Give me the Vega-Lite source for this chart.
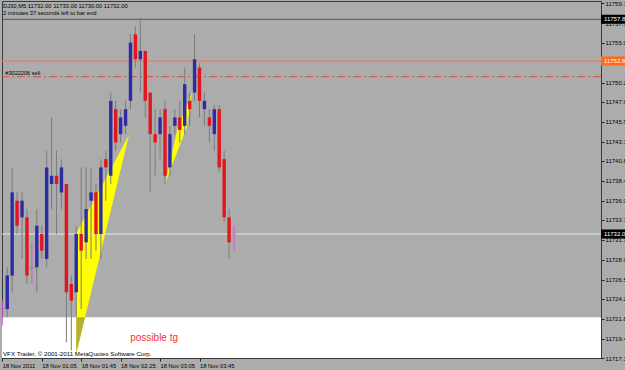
{
  "$schema": "https://vega.github.io/schema/vega-lite/v6.json",
  "width": 599,
  "height": 357,
  "autosize": {"type": "none"},
  "padding": {"left": 2, "top": 1, "right": 24, "bottom": 12},
  "background": "#ACACAC",
  "config": {
    "view": {"fill": "#ACACAC", "stroke": "#3A3A3A", "strokeWidth": 1},
    "font": "Liberation Sans",
    "scale": {"continuousPadding": 0},
    "axis": {"labelFont": "Liberation Sans", "labelFontSize": 6, "labelColor": "#000000", "tickColor": "#202020", "domainColor": "#3A3A3A", "grid": false, "labelOverlap": false, "labelFlush": false, "labelBound": false}
  },
  "datasets": {
    "bars": [
      {"t": "2011-11-18T00:25:00Z", "o": 11723, "h": 11724, "l": 11721, "c": 11723},
      {"t": "2011-11-18T00:30:00Z", "o": 11723, "h": 11728, "l": 11722, "c": 11727},
      {"t": "2011-11-18T00:35:00Z", "o": 11727, "h": 11740, "l": 11725, "c": 11737},
      {"t": "2011-11-18T00:40:00Z", "o": 11736, "h": 11737, "l": 11732, "c": 11733},
      {"t": "2011-11-18T00:45:00Z", "o": 11734, "h": 11737, "l": 11729, "c": 11736},
      {"t": "2011-11-18T00:50:00Z", "o": 11734, "h": 11735, "l": 11726, "c": 11727},
      {"t": "2011-11-18T00:55:00Z", "o": 11728, "h": 11731, "l": 11726, "c": 11728},
      {"t": "2011-11-18T01:00:00Z", "o": 11728, "h": 11735, "l": 11725, "c": 11733},
      {"t": "2011-11-18T01:05:00Z", "o": 11732, "h": 11733, "l": 11729, "c": 11730},
      {"t": "2011-11-18T01:10:00Z", "o": 11729, "h": 11742, "l": 11728, "c": 11740},
      {"t": "2011-11-18T01:15:00Z", "o": 11738, "h": 11746, "l": 11735, "c": 11739},
      {"t": "2011-11-18T01:20:00Z", "o": 11739, "h": 11742, "l": 11732, "c": 11738},
      {"t": "2011-11-18T01:25:00Z", "o": 11737, "h": 11741, "l": 11735, "c": 11740},
      {"t": "2011-11-18T01:30:00Z", "o": 11738, "h": 11738, "l": 11719, "c": 11725},
      {"t": "2011-11-18T01:35:00Z", "o": 11726, "h": 11727, "l": 11718, "c": 11724},
      {"t": "2011-11-18T01:40:00Z", "o": 11725, "h": 11733, "l": 11722, "c": 11732},
      {"t": "2011-11-18T01:45:00Z", "o": 11732, "h": 11740, "l": 11723, "c": 11730},
      {"t": "2011-11-18T01:50:00Z", "o": 11731, "h": 11740, "l": 11729, "c": 11735},
      {"t": "2011-11-18T01:55:00Z", "o": 11736, "h": 11740, "l": 11729, "c": 11737},
      {"t": "2011-11-18T02:00:00Z", "o": 11737, "h": 11738, "l": 11730, "c": 11732},
      {"t": "2011-11-18T02:05:00Z", "o": 11732, "h": 11741, "l": 11729, "c": 11740},
      {"t": "2011-11-18T02:10:00Z", "o": 11741, "h": 11742, "l": 11736, "c": 11740},
      {"t": "2011-11-18T02:15:00Z", "o": 11739, "h": 11749, "l": 11738, "c": 11748},
      {"t": "2011-11-18T02:20:00Z", "o": 11747, "h": 11748, "l": 11742, "c": 11743},
      {"t": "2011-11-18T02:25:00Z", "o": 11744, "h": 11747, "l": 11743, "c": 11746},
      {"t": "2011-11-18T02:30:00Z", "o": 11745, "h": 11748, "l": 11744, "c": 11747},
      {"t": "2011-11-18T02:35:00Z", "o": 11748, "h": 11756, "l": 11747, "c": 11755},
      {"t": "2011-11-18T02:40:00Z", "o": 11756, "h": 11757, "l": 11752, "c": 11753},
      {"t": "2011-11-18T02:45:00Z", "o": 11753, "h": 11758, "l": 11749, "c": 11754},
      {"t": "2011-11-18T02:50:00Z", "o": 11754, "h": 11754, "l": 11746, "c": 11748},
      {"t": "2011-11-18T02:55:00Z", "o": 11749, "h": 11749, "l": 11737, "c": 11744},
      {"t": "2011-11-18T03:00:00Z", "o": 11744, "h": 11747, "l": 11739, "c": 11743},
      {"t": "2011-11-18T03:05:00Z", "o": 11744, "h": 11747, "l": 11741, "c": 11746},
      {"t": "2011-11-18T03:10:00Z", "o": 11747, "h": 11748, "l": 11738, "c": 11739},
      {"t": "2011-11-18T03:15:00Z", "o": 11740, "h": 11745, "l": 11739, "c": 11744},
      {"t": "2011-11-18T03:20:00Z", "o": 11745, "h": 11747, "l": 11744, "c": 11746},
      {"t": "2011-11-18T03:25:00Z", "o": 11746, "h": 11748, "l": 11743, "c": 11744.5},
      {"t": "2011-11-18T03:30:00Z", "o": 11745, "h": 11752, "l": 11744, "c": 11750},
      {"t": "2011-11-18T03:35:00Z", "o": 11748, "h": 11749, "l": 11745, "c": 11747},
      {"t": "2011-11-18T03:40:00Z", "o": 11749, "h": 11756, "l": 11748, "c": 11753},
      {"t": "2011-11-18T03:45:00Z", "o": 11752, "h": 11752.5, "l": 11746, "c": 11748},
      {"t": "2011-11-18T03:50:00Z", "o": 11747, "h": 11749, "l": 11745, "c": 11748},
      {"t": "2011-11-18T03:55:00Z", "o": 11746, "h": 11747, "l": 11743, "c": 11745},
      {"t": "2011-11-18T04:00:00Z", "o": 11744, "h": 11747.5, "l": 11742, "c": 11747},
      {"t": "2011-11-18T04:05:00Z", "o": 11747, "h": 11747.5, "l": 11739.5, "c": 11740},
      {"t": "2011-11-18T04:10:00Z", "o": 11741, "h": 11742, "l": 11733.5, "c": 11734},
      {"t": "2011-11-18T04:15:00Z", "o": 11734, "h": 11735, "l": 11729, "c": 11731},
      {"t": "2011-11-18T04:20:00Z", "o": 11732, "h": 11733, "l": 11730, "c": 11732}
    ],
    "fans": [
      {"part": "f1", "t": "2011-11-18T01:40:00Z", "top": 11732.1, "bot": 11717.6},
      {"part": "f1", "t": "2011-11-18T02:33:30Z", "top": 11743.9, "bot": 11743.9},
      {"part": "f2", "t": "2011-11-18T03:10:00Z", "top": 11738.0, "bot": 11738.0},
      {"part": "f2", "t": "2011-11-18T03:23:12Z", "top": 11744.9, "bot": 11742.1},
      {"part": "f2", "t": "2011-11-18T03:32:18Z", "top": 11747.5, "bot": 11744.9},
      {"part": "f2", "t": "2011-11-18T03:37:24Z", "top": 11749.0, "bot": 11749.0}
    ],
    "fanLow": [
      {"part": "f1low", "t": "2011-11-18T01:40:00Z", "top": 11722.0, "bot": 11717.6},
      {"part": "f1low", "t": "2011-11-18T01:48:57Z", "top": 11722.0, "bot": 11722.0}
    ],
    "boxes": [
      {"level": 11757.8, "label": "11757.8", "kind": "line"},
      {"level": 11752.8, "label": "11752.8", "kind": "order"},
      {"level": 11732.0, "label": "11732.0", "kind": "bid"}
    ]
  },
  "layer": [
    {
      "data": {"values": [{}]},
      "mark": {"type": "rect", "color": "#FFFFFF"},
      "encoding": {
        "x": {"datum": {"year": 2011, "month": 11, "date": 18, "hours": 0, "minutes": 24, "seconds": 42, "utc": true}, "type": "temporal"},
        "x2": {"datum": {"year": 2011, "month": 11, "date": 18, "hours": 10, "minutes": 32, "seconds": 11, "utc": true}},
        "y": {"datum": 11722.0, "type": "quantitative"},
        "y2": {"datum": 11717.1}
      }
    },
    {
      "data": {"name": "fans"},
      "mark": {"type": "area", "color": "#FFFF00", "opacity": 1},
      "encoding": {
        "x": {"field": "t", "type": "temporal", "title": null},
        "y": {"field": "top", "type": "quantitative", "title": null},
        "y2": {"field": "bot"},
        "detail": {"field": "part"}
      }
    },
    {
      "data": {"name": "fanLow"},
      "mark": {"type": "area", "color": "#B6AF3A", "opacity": 1},
      "encoding": {
        "x": {"field": "t", "type": "temporal", "title": null},
        "y": {"field": "top", "type": "quantitative", "title": null},
        "y2": {"field": "bot"}
      }
    },
    {
      "data": {"values": [{}]},
      "mark": {"type": "rule", "color": "#555555", "strokeWidth": 1},
      "encoding": {"y": {"datum": 11757.8, "type": "quantitative"}}
    },
    {
      "data": {"values": [{}]},
      "mark": {"type": "rule", "color": "#EE7650", "strokeWidth": 1},
      "encoding": {"y": {"datum": 11752.8, "type": "quantitative"}}
    },
    {
      "data": {"values": [{}]},
      "mark": {"type": "rule", "color": "#E04848", "strokeWidth": 1, "strokeDash": [8, 3, 2, 3]},
      "encoding": {"y": {"datum": 11750.9, "type": "quantitative"}}
    },
    {
      "data": {"values": [{}]},
      "mark": {"type": "rule", "color": "#E8E8E8", "strokeWidth": 1.2},
      "encoding": {"y": {"datum": 11732.0, "type": "quantitative"}}
    },
    {
      "data": {"name": "bars"},
      "mark": {"type": "rule", "strokeWidth": 1},
      "encoding": {
        "x": {
          "field": "t", "type": "temporal", "title": null,
          "scale": {"type": "utc", "nice": false, "padding": 0, "domain": [
            {"year": 2011, "month": 11, "date": 18, "hours": 0, "minutes": 24, "seconds": 42, "utc": true},
            {"year": 2011, "month": 11, "date": 18, "hours": 10, "minutes": 32, "seconds": 11, "utc": true}
          ]},
          "axis": {
            "title": null,
            "values": [
              {"year": 2011, "month": 11, "date": 18, "hours": 0, "minutes": 25, "utc": true},
              {"year": 2011, "month": 11, "date": 18, "hours": 1, "minutes": 5, "utc": true},
              {"year": 2011, "month": 11, "date": 18, "hours": 1, "minutes": 45, "utc": true},
              {"year": 2011, "month": 11, "date": 18, "hours": 2, "minutes": 25, "utc": true},
              {"year": 2011, "month": 11, "date": 18, "hours": 3, "minutes": 5, "utc": true},
              {"year": 2011, "month": 11, "date": 18, "hours": 3, "minutes": 45, "utc": true}
            ],
            "tickCount": 50,
            "labelExpr": "utcFormat(datum.value, '%H:%M') == '00:25' ? '18 Nov 2011' : utcFormat(datum.value, '%d %b %H:%M')",
            "tickSize": 3,
            "labelAlign": "left",
            "labelBaseline": "top",
            "labelPadding": 1,
            "labelDx": 0.5,
            "labelFontSize": 5.8,
            "labelOverlap": false,
            "labelFlush": false
          }
        },
        "y": {
          "field": "l", "type": "quantitative", "title": null,
          "scale": {"domain": [11717.1, 11760.0], "zero": false, "nice": false, "padding": 0},
          "axis": {
            "title": null,
            "orient": "right",
            "values": [11717.1, 11719.4, 11721.8, 11724.2, 11726.5, 11728.9, 11731.3, 11733.7, 11736.0, 11738.4, 11740.8, 11743.1, 11745.5, 11747.9, 11750.2, 11752.6, 11755.0, 11757.3, 11759.7],
            "tickCount": 50,
            "format": ".1f",
            "tickSize": 3,
            "labelPadding": 1,
            "labelBaseline": "middle",
            "labelOverlap": false,
            "labelFlush": false,
            "labelBound": false
          }
        },
        "y2": {"field": "h"},
        "color": {"condition": {"test": "datum.c == datum.o", "value": "#D850D8"}, "value": "#7C7C7C"}
      }
    },
    {
      "data": {"name": "bars"},
      "transform": [{"filter": "datum.c != datum.o"}],
      "mark": {"type": "bar", "size": 3.4},
      "encoding": {
        "x": {"field": "t", "type": "temporal", "title": null},
        "y": {"field": "o", "type": "quantitative", "title": null},
        "y2": {"field": "c"},
        "color": {"condition": {"test": "datum.c > datum.o", "value": "#2C2CA4"}, "value": "#E2161F"}
      }
    },
    {
      "data": {"name": "bars"},
      "transform": [{"filter": "datum.c == datum.o"}],
      "mark": {"type": "tick", "orient": "horizontal", "size": 5, "thickness": 1, "color": "#D850D8"},
      "encoding": {
        "x": {"field": "t", "type": "temporal", "title": null},
        "y": {"field": "c", "type": "quantitative", "title": null}
      }
    },
    {
      "data": {"values": [{}]},
      "mark": {"type": "text", "align": "left", "baseline": "middle", "fontSize": 5.8, "color": "#000000", "text": "DJ30,M5  11732.00 11733.00 11730.00 11732.00"},
      "encoding": {
        "x": {"datum": {"year": 2011, "month": 11, "date": 18, "hours": 0, "minutes": 25, "seconds": 42, "utc": true}, "type": "temporal"},
        "y": {"datum": 11759.4, "type": "quantitative"}
      }
    },
    {
      "data": {"values": [{}]},
      "mark": {"type": "text", "align": "left", "baseline": "middle", "fontSize": 5.8, "color": "#000000", "text": "2 minutes 37 seconds left to bar end"},
      "encoding": {
        "x": {"datum": {"year": 2011, "month": 11, "date": 18, "hours": 0, "minutes": 25, "seconds": 42, "utc": true}, "type": "temporal"},
        "y": {"datum": 11758.6, "type": "quantitative"}
      }
    },
    {
      "data": {"values": [{}]},
      "mark": {"type": "text", "align": "left", "baseline": "middle", "fontSize": 5.6, "color": "#000000", "text": "#3022206 sell"},
      "encoding": {
        "x": {"datum": {"year": 2011, "month": 11, "date": 18, "hours": 0, "minutes": 28, "seconds": 3, "utc": true}, "type": "temporal"},
        "y": {"datum": 11751.4, "type": "quantitative"}
      }
    },
    {
      "data": {"values": [{}]},
      "mark": {"type": "text", "align": "center", "baseline": "middle", "fontSize": 10, "color": "#F03434", "text": "possible tg"},
      "encoding": {
        "x": {"datum": {"year": 2011, "month": 11, "date": 18, "hours": 2, "minutes": 59, "utc": true}, "type": "temporal"},
        "y": {"datum": 11719.5, "type": "quantitative"}
      }
    },
    {
      "data": {"values": [{}]},
      "mark": {"type": "text", "align": "left", "baseline": "middle", "fontSize": 6.2, "color": "#000000", "text": "VFX Trader, © 2001-2011 MetaQuotes Software Corp."},
      "encoding": {
        "x": {"datum": {"year": 2011, "month": 11, "date": 18, "hours": 0, "minutes": 25, "seconds": 42, "utc": true}, "type": "temporal"},
        "y": {"datum": 11717.55, "type": "quantitative"}
      }
    },
    {
      "data": {"name": "boxes"},
      "mark": {"type": "bar", "orient": "horizontal", "size": 9, "clip": false},
      "encoding": {
        "x": {"datum": {"year": 2011, "month": 11, "date": 18, "hours": 10, "minutes": 32, "seconds": 11, "utc": true}, "type": "temporal"},
        "x2": {"datum": {"year": 2011, "month": 11, "date": 18, "hours": 11, "minutes": 5, "utc": true}},
        "y": {"field": "level", "type": "quantitative", "title": null},
        "color": {"field": "kind", "type": "nominal", "legend": null, "scale": {"domain": ["line", "order", "bid"], "range": ["#000000", "#FF6A1C", "#000000"]}}
      }
    },
    {
      "data": {"name": "boxes"},
      "mark": {"type": "text", "align": "left", "baseline": "middle", "fontSize": 6, "color": "#FFFFFF", "dx": 3, "clip": false},
      "encoding": {
        "x": {"datum": {"year": 2011, "month": 11, "date": 18, "hours": 10, "minutes": 32, "seconds": 11, "utc": true}, "type": "temporal"},
        "y": {"field": "level", "type": "quantitative", "title": null},
        "text": {"field": "label"}
      }
    }
  ]
}
